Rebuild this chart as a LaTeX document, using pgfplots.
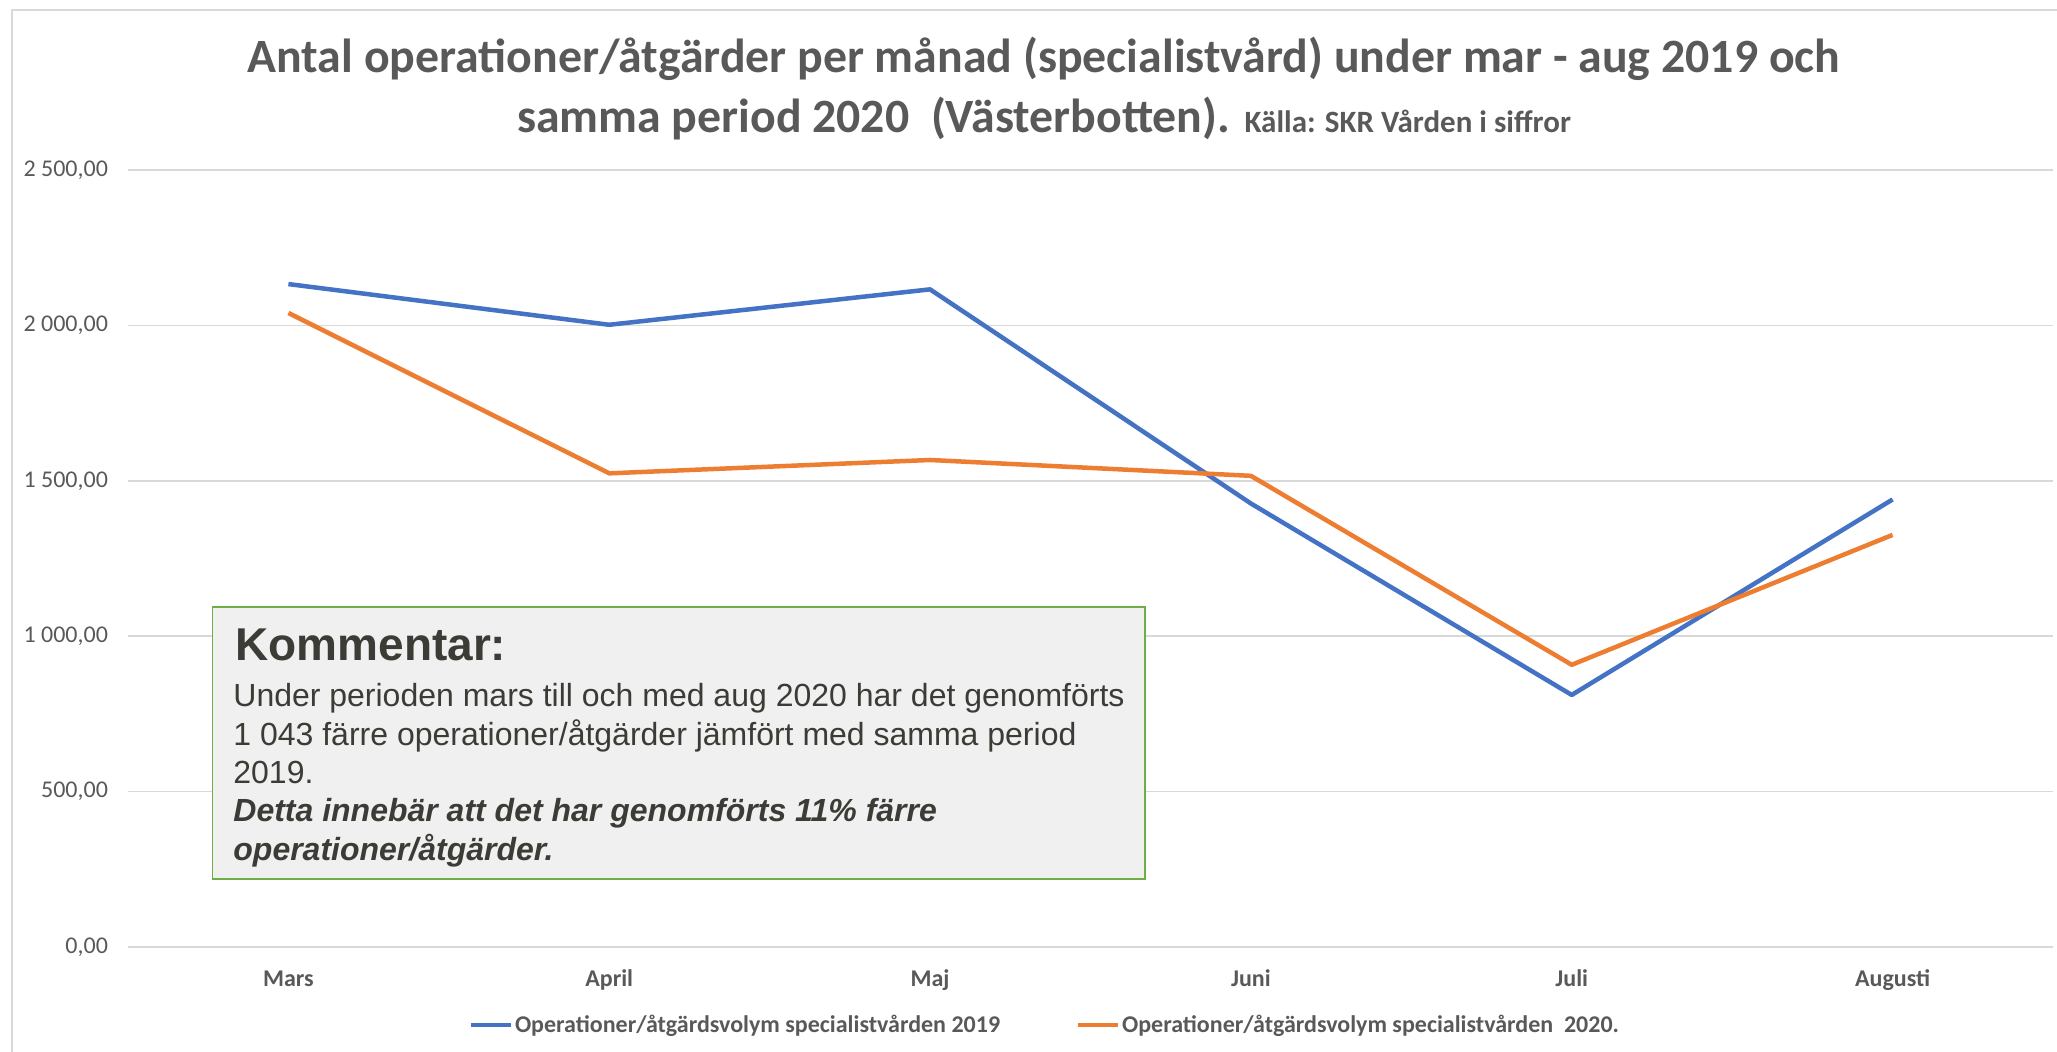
\documentclass[border=0pt]{standalone}
\usepackage{pgfplots}
\pgfplotsset{compat=1.18}
\usepackage{fontspec}
\setmainfont{Carlito}
\newfontfamily\arialfont{Liberation Sans}
\definecolor{cblue}{HTML}{4472C4}
\definecolor{corange}{HTML}{ED7D31}
\definecolor{cgrid}{HTML}{D9D9D9}
\definecolor{ctext}{HTML}{595959}
\definecolor{cgreen}{HTML}{70AD47}
\definecolor{cbox}{HTML}{F0F0F0}
\definecolor{cdark}{HTML}{3B3C36}
\begin{document}
\begin{tikzpicture}
\path[use as bounding box] (-64pt,-52pt) rectangle (964.5pt,473.5pt);
\draw[cgrid, line width=1pt] (-58pt,-60pt) -- (-58pt,468.5pt) -- (975pt,468.5pt);
\begin{axis}[
  at={(0,0)}, anchor=south west,
  scale only axis, width=962.5pt, height=388.5pt,
  xmin=-0.5, xmax=5.5, ymin=0, ymax=2500,
  xtick={0,...,5},
  xticklabels={Mars,April,Maj,Juni,Juli,Augusti},
  ytick={0,500,...,2500},
  ymajorgrids,
  grid style={draw=cgrid, line width=0.75pt},
  axis line style={draw=none},
  major tick length=0pt,
  tick style={draw=none},
  xticklabel style={anchor=base, yshift=-19.5pt, font=\bfseries\fontsize{12}{14}\selectfont, text=ctext},
  yticklabel style={anchor=east, xshift=-6.5pt, font=\fontsize{12}{14}\selectfont, text=ctext,
     /pgf/number format/.cd, fixed, fixed zerofill, precision=2, use comma, 1000 sep={\ }, assume math mode=true},
  legend columns=2,
  legend style={at={(0.4764,-0.1004)}, anchor=center, draw=none, fill=none,
     font=\bfseries\fontsize{12}{14}\selectfont, text=ctext,
     nodes={inner xsep=1pt, inner ysep=2pt},
     /tikz/every even column/.append style={column sep=37pt}},
  legend image code/.code={\draw[#1, line width=2pt] (0pt,0pt) -- (20pt,0pt);},
]
\addplot[cblue, line width=2.25pt, line join=round] coordinates {
  (0,2133) (1,2002) (2,2116) (3,1427) (4,811) (5,1440)};
\addlegendentry{Operationer/åtgärdsvolym specialistvården 2019}
\addplot[corange, line width=2.25pt, line join=round] coordinates {
  (0,2040) (1,1524) (2,1567) (3,1516) (4,908) (5,1326)};
\addlegendentry{Operationer/åtgärdsvolym specialistvården\ \ 2020.}
\end{axis}
% title
\node[anchor=base, text=ctext, font=\bfseries\fontsize{23.9}{28}\selectfont] at (458pt,437pt)
  {Antal operationer/åtgärder per månad (specialistvård) under mar - aug 2019 och};
\node[anchor=base, text=ctext, font=\bfseries\fontsize{23.9}{28}\selectfont] at (458pt,407pt)
  {samma period 2020\ \ (Västerbotten). {\fontsize{15.5}{18}\selectfont Källa: SKR Vården i siffror}};
% comment box
\draw[cgreen, fill=cbox, line width=0.75pt] (42.25pt,34pt) rectangle (508.5pt,170pt);
\begin{scope}[every node/.style={anchor=base west, inner sep=0pt, text=cdark}]
\node[font=\arialfont\bfseries\fontsize{23}{27}\selectfont] at (53.5pt,143pt) {Kommentar:};
\node[font=\arialfont\fontsize{16}{19.5}\selectfont] at (52.5pt,120.5pt) {Under perioden mars till och med aug 2020 har det genomförts};
\node[font=\arialfont\fontsize{16}{19.5}\selectfont] at (52.5pt,101pt) {1 043 färre operationer/åtgärder jämfört med samma period};
\node[font=\arialfont\fontsize{16}{19.5}\selectfont] at (52.5pt,82pt) {2019.};
\node[font=\arialfont\bfseries\itshape\fontsize{16}{19.5}\selectfont] at (52.5pt,63pt) {Detta innebär att det har genomförts 11\% färre};
\node[font=\arialfont\bfseries\itshape\fontsize{16}{19.5}\selectfont] at (52.5pt,43.5pt) {operationer/åtgärder.};
\end{scope}
\end{tikzpicture}
\end{document}
